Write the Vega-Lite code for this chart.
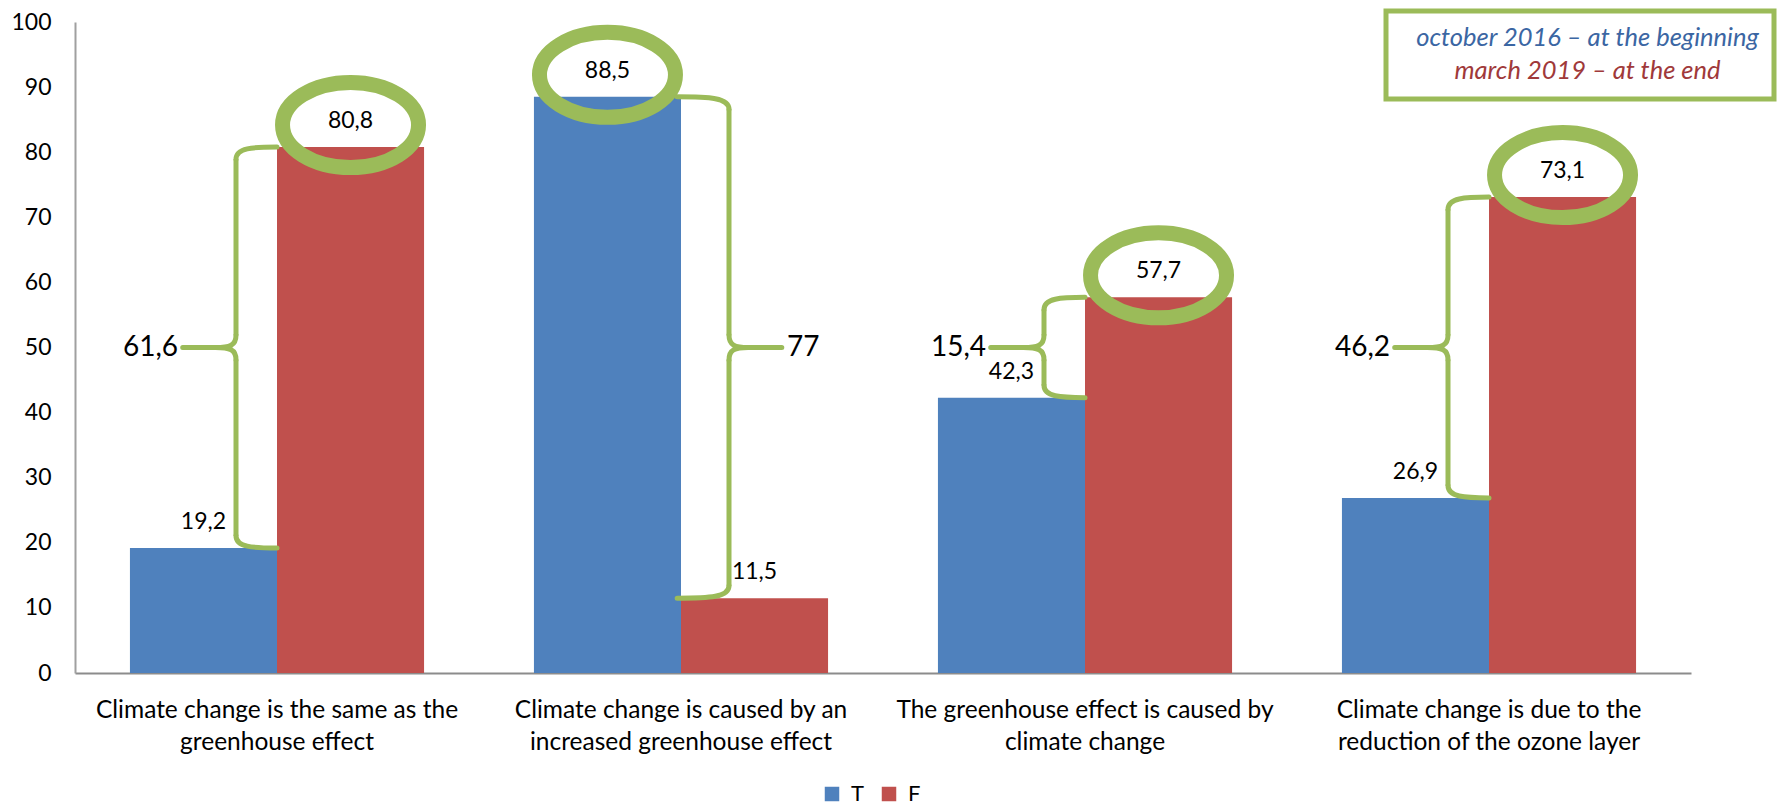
{
  "$schema": "https://vega.github.io/schema/vega-lite/v6.json",
  "width": 1616,
  "height": 651,
  "autosize": {"type": "none"},
  "padding": {"left": 75, "top": 22, "right": 92, "bottom": 134},
  "config": {
    "view": {"stroke": null},
    "font": "Lato",
    "legend": {"strokeWidth": 5},
    "locale": {"number": {"decimal": ",", "thousands": ".", "grouping": [3], "currency": ["", ""]}}
  },
  "datasets": {
    "main": [
      {"cat": "Climate change is the same as the greenhouse effect", "series": "T", "value": 19.2},
      {"cat": "Climate change is the same as the greenhouse effect", "series": "F", "value": 80.8},
      {"cat": "Climate change is caused by an increased greenhouse effect", "series": "T", "value": 88.5},
      {"cat": "Climate change is caused by an increased greenhouse effect", "series": "F", "value": 11.5},
      {"cat": "The greenhouse effect is caused by climate change", "series": "T", "value": 42.3},
      {"cat": "The greenhouse effect is caused by climate change", "series": "F", "value": 57.7},
      {"cat": "Climate change is due to the reduction of the ozone layer", "series": "T", "value": 26.9},
      {"cat": "Climate change is due to the reduction of the ozone layer", "series": "F", "value": 73.1}
    ],
    "braces": [
      {"cat": "Climate change is the same as the greenhouse effect", "low": 19.2, "high": 80.8, "mid": 50, "diff": 61.6, "dir": "left"},
      {"cat": "Climate change is caused by an increased greenhouse effect", "low": 11.5, "high": 88.5, "mid": 50, "diff": 77, "dir": "right"},
      {"cat": "The greenhouse effect is caused by climate change", "low": 42.3, "high": 57.7, "mid": 50, "diff": 15.4, "dir": "left"},
      {"cat": "Climate change is due to the reduction of the ozone layer", "low": 26.9, "high": 73.1, "mid": 50, "diff": 46.2, "dir": "left"}
    ],
    "notes": [
      {"note": "october 2016 – at the beginning"},
      {"note": "march 2019 – at the end"}
    ]
  },
  "layer": [
    {
      "data": {"name": "main"},
      "mark": {"type": "bar"},
      "encoding": {
        "x": {
          "field": "cat", "type": "nominal", "sort": null,
          "scale": {"paddingInner": 0.272, "paddingOuter": 0.136},
          "axis": {
            "title": null, "labelAngle": 0, "ticks": false, "domainColor": "#8C8C8C", "domainWidth": 2,
            "labelFont": "Lato", "labelFontSize": 24.5, "labelColor": "#000000", "labelLimit": 600,
            "labelLineHeight": 32, "labelPadding": 25, "labelBaseline": "top",
            "labelExpr": "datum.value == 'Climate change is the same as the greenhouse effect' ? ['Climate change is the same as the', 'greenhouse effect'] : datum.value == 'Climate change is caused by an increased greenhouse effect' ? ['Climate change is caused by an', 'increased greenhouse effect'] : datum.value == 'The greenhouse effect is caused by climate change' ? ['The greenhouse effect is caused by', 'climate change'] : ['Climate change is due to the', 'reduction of the ozone layer']"
          }
        },
        "xOffset": {"field": "series", "type": "nominal", "sort": ["T", "F"]},
        "y": {
          "field": "value", "type": "quantitative",
          "scale": {"domain": [0, 100], "nice": false},
          "axis": {
            "title": null, "values": [0, 10, 20, 30, 40, 50, 60, 70, 80, 90, 100], "grid": false, "ticks": false,
            "domainColor": "#A0A0A0", "domainWidth": 2, "labelPadding": 24,
            "labelFont": "Lato", "labelFontSize": 23, "labelColor": "#000000"
          }
        },
        "color": {
          "field": "series", "type": "nominal",
          "scale": {"domain": ["T", "F"], "range": ["#4F81BD", "#C0504D"]},
          "legend": {
            "title": null, "orient": "none", "legendX": 746, "legendY": 761, "direction": "horizontal",
            "symbolType": "square", "symbolSize": 210, "symbolStrokeWidth": 0, "symbolOpacity": 1,
            "labelFont": "Lato", "labelFontSize": 22, "labelColor": "#000000", "labelOffset": 8,
            "columnPadding": 14, "padding": 0
          }
        }
      }
    },
    {
      "data": {"name": "main"},
      "transform": [
        {"joinaggregate": [{"op": "max", "field": "value", "as": "maxv"}], "groupby": ["cat"]},
        {"filter": "datum.value == datum.maxv"}
      ],
      "mark": {
        "type": "point", "filled": false, "opacity": 1, "color": "#9BBB59", "strokeWidth": 15, "size": 18496, "yOffset": -22,
        "shape": "M-1,0 C-1,-0.345 -0.552,-0.625 0,-0.625 C0.552,-0.625 1,-0.345 1,0 C1,0.345 0.552,0.625 0,0.625 C-0.552,0.625 -1,0.345 -1,0 Z"
      },
      "encoding": {
        "x": {"field": "cat", "type": "nominal", "sort": null},
        "xOffset": {"field": "series", "type": "nominal", "sort": ["T", "F"]},
        "y": {"field": "value", "type": "quantitative"}
      }
    },
    {
      "data": {"name": "main"},
      "mark": {"type": "text", "font": "Lato", "fontSize": 23, "color": "#000000", "baseline": "middle", "align": "center", "dy": -26},
      "encoding": {
        "x": {"field": "cat", "type": "nominal", "sort": null},
        "xOffset": {"field": "series", "type": "nominal", "sort": ["T", "F"]},
        "y": {"field": "value", "type": "quantitative"},
        "text": {"field": "value", "type": "quantitative", "format": ".1f"}
      }
    },
    {
      "data": {"name": "braces"},
      "transform": [{"filter": "datum.dir == 'left'"}],
      "layer": [
        {
          "mark": {"type": "rule", "color": "#9BBB59", "strokeWidth": 5, "xOffset": -41, "yOffset": 12, "y2Offset": -12},
          "encoding": {
            "x": {"field": "cat", "type": "nominal", "sort": null},
            "y": {"field": "high", "type": "quantitative"},
            "y2": {"field": "mid"}
          }
        },
        {
          "mark": {"type": "rule", "color": "#9BBB59", "strokeWidth": 5, "xOffset": -41, "yOffset": 12, "y2Offset": -12},
          "encoding": {
            "x": {"field": "cat", "type": "nominal", "sort": null},
            "y": {"field": "mid", "type": "quantitative"},
            "y2": {"field": "low"}
          }
        },
        {
          "mark": {"type": "point", "filled": false, "opacity": 1, "color": "#9BBB59", "strokeWidth": 5, "size": 6724, "strokeCap": "round",
            "shape": "M0,0 C-0.6,0 -1,0.02 -1,0.3"},
          "encoding": {
            "x": {"field": "cat", "type": "nominal", "sort": null},
            "y": {"field": "high", "type": "quantitative"}
          }
        },
        {
          "mark": {"type": "point", "filled": false, "opacity": 1, "color": "#9BBB59", "strokeWidth": 5, "size": 6724, "strokeCap": "round",
            "shape": "M0,0 C-0.6,0 -1,-0.02 -1,-0.3"},
          "encoding": {
            "x": {"field": "cat", "type": "nominal", "sort": null},
            "y": {"field": "low", "type": "quantitative"}
          }
        },
        {
          "mark": {"type": "point", "filled": false, "opacity": 1, "color": "#9BBB59", "strokeWidth": 5, "size": 6724, "strokeCap": "round",
            "shape": "M-1,-0.3 C-1,-0.05 -1.15,0 -1.5,0 L-2.3,0 M-1,0.3 C-1,0.05 -1.15,0 -1.5,0"},
          "encoding": {
            "x": {"field": "cat", "type": "nominal", "sort": null},
            "y": {"field": "mid", "type": "quantitative"}
          }
        },
        {
          "mark": {"type": "text", "font": "Lato", "fontSize": 28, "color": "#000000", "align": "right", "baseline": "middle", "xOffset": -99},
          "encoding": {
            "x": {"field": "cat", "type": "nominal", "sort": null},
            "y": {"field": "mid", "type": "quantitative"},
            "text": {"field": "diff", "type": "quantitative", "format": ".1~f"}
          }
        }
      ]
    },
    {
      "data": {"name": "braces"},
      "transform": [{"filter": "datum.dir == 'right'"}],
      "layer": [
        {
          "mark": {"type": "rule", "color": "#9BBB59", "strokeWidth": 5, "xOffset": 48, "yOffset": 12, "y2Offset": -12},
          "encoding": {
            "x": {"field": "cat", "type": "nominal", "sort": null},
            "y": {"field": "high", "type": "quantitative"},
            "y2": {"field": "mid"}
          }
        },
        {
          "mark": {"type": "rule", "color": "#9BBB59", "strokeWidth": 5, "xOffset": 48, "yOffset": 12, "y2Offset": -12},
          "encoding": {
            "x": {"field": "cat", "type": "nominal", "sort": null},
            "y": {"field": "mid", "type": "quantitative"},
            "y2": {"field": "low"}
          }
        },
        {
          "mark": {"type": "point", "filled": false, "opacity": 1, "color": "#9BBB59", "strokeWidth": 5, "size": 9216, "strokeCap": "round",
            "shape": "M-0.08,0 C0.6,0 1,0.02 1,0.26"},
          "encoding": {
            "x": {"field": "cat", "type": "nominal", "sort": null},
            "y": {"field": "high", "type": "quantitative"}
          }
        },
        {
          "mark": {"type": "point", "filled": false, "opacity": 1, "color": "#9BBB59", "strokeWidth": 5, "size": 9216, "strokeCap": "round",
            "shape": "M-0.08,0 C0.6,0 1,-0.02 1,-0.26"},
          "encoding": {
            "x": {"field": "cat", "type": "nominal", "sort": null},
            "y": {"field": "low", "type": "quantitative"}
          }
        },
        {
          "mark": {"type": "point", "filled": false, "opacity": 1, "color": "#9BBB59", "strokeWidth": 5, "size": 9216, "strokeCap": "round",
            "shape": "M1,-0.26 C1,-0.05 1.12,0 1.4,0 L2.1,0 M1,0.26 C1,0.05 1.12,0 1.4,0"},
          "encoding": {
            "x": {"field": "cat", "type": "nominal", "sort": null},
            "y": {"field": "mid", "type": "quantitative"}
          }
        },
        {
          "mark": {"type": "text", "font": "Lato", "fontSize": 28, "color": "#000000", "align": "left", "baseline": "middle", "xOffset": 106},
          "encoding": {
            "x": {"field": "cat", "type": "nominal", "sort": null},
            "y": {"field": "mid", "type": "quantitative"},
            "text": {"field": "diff", "type": "quantitative", "format": ".1~f"}
          }
        }
      ]
    },
    {
      "data": {"name": "notes"},
      "mark": {"type": "point", "opacity": 0, "size": 0},
      "encoding": {
        "shape": {
          "field": "note", "type": "nominal", "sort": null,
          "legend": {
            "title": null, "orient": "none", "legendX": 1311, "legendY": -11,
            "symbolOpacity": 0, "symbolSize": 0, "symbolStrokeWidth": 0,
            "labelFont": "Lato", "labelFontStyle": "italic", "labelFontSize": 25.5, "labelAlign": "center",
            "labelOffset": 162, "labelLimit": 600, "rowPadding": 6, "padding": 14,
            "strokeColor": "#9BBB59",
            "labelColor": {"expr": "datum.value == 'october 2016 – at the beginning' ? '#3B66A3' : '#A0393A'"}
          }
        }
      }
    }
  ]
}
